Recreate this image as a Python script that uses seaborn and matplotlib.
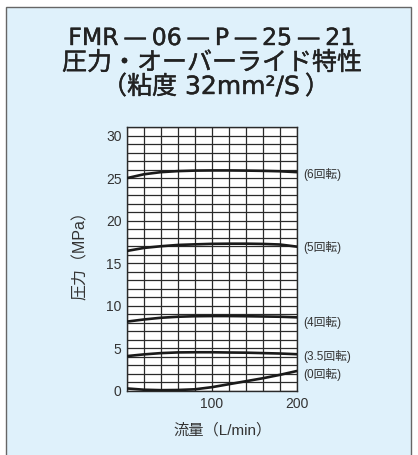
import matplotlib
matplotlib.use("Agg")
import matplotlib.pyplot as plt
import matplotlib.patches as mpatches
import matplotlib.patheffects as pe
import numpy as np
import pandas as pd
import seaborn as sns

# Flow rate (L/min) and relief pressure (MPa) per number of adjusting-screw turns
flow = [0, 20, 40, 60, 80, 100, 120, 140, 160, 180, 200]
p_6turn = [25.0, 25.45, 25.7, 25.82, 25.88, 25.9, 25.9, 25.88, 25.85, 25.8, 25.7]
p_5turn = [16.45, 16.8, 17.0, 17.15, 17.22, 17.28, 17.3, 17.3, 17.27, 17.2, 16.95]
p_4turn = [8.15, 8.4, 8.6, 8.72, 8.78, 8.8, 8.8, 8.78, 8.75, 8.72, 8.65]
p_35turn = [4.1, 4.3, 4.45, 4.53, 4.55, 4.55, 4.52, 4.5, 4.45, 4.4, 4.32]
p_0turn = [0.3, 0.15, 0.1, 0.12, 0.2, 0.45, 0.8, 1.15, 1.5, 1.9, 2.35]

series_labels = ["(6回転)", "(5回転)", "(4回転)", "(3.5回転)", "(0回転)"]
label_y = [25.4, 16.8, 8.0, 4.0, 1.9]
x_ticks = [100, 200]
y_ticks = [0, 5, 10, 15, 20, 25, 30]

title_lines = [
    "FMR\u2009—\u200906\u2009—\u2009P\u2009—\u200925\u2009—\u200921",
    "圧力・オーバーライド特性",
    "（粘度 32mm²/S\u2009）",
]

sns.set_theme(style="white")
latin_cjk = ["Liberation Sans", "Noto Sans CJK JP", "DejaVu Sans"]
wide_cjk = ["DejaVu Sans", "Noto Sans CJK JP"]
plt.rcParams["font.family"] = latin_cjk

df = pd.DataFrame({
    "flow": flow * 5,
    "pressure": p_6turn + p_5turn + p_4turn + p_35turn + p_0turn,
    "turns": sum([[lab] * len(flow) for lab in series_labels], []),
})

bg = "#dff1fb"
fig = plt.figure(figsize=(4.18, 4.55), dpi=100, facecolor="white")

# light blue panel with grey frame behind everything
panel = mpatches.Rectangle((6 / 418, -0.05), 405 / 418, 1 - 7 / 455 + 0.05,
                           transform=fig.transFigure, facecolor=bg,
                           edgecolor="#666666", linewidth=1.0, zorder=-10)
fig.patches.append(panel)

ax = fig.add_axes([127 / 418, 1 - 391 / 455, 170 / 418, 264 / 455])
ax.set_zorder(1)
ax.set_facecolor("white")

sns.lineplot(data=df, x="flow", y="pressure", hue="turns",
             palette=["#1a1a1a"] * 5, linewidth=1.9, legend=False, ax=ax,
             zorder=3)

ax.set_xlim(0, 200)
ax.set_ylim(0, 31)
ax.set_xticks(np.arange(0, 201, 20), minor=True)
ax.set_yticks(np.arange(0, 32, 1), minor=True)
ax.set_xticks(x_ticks)
ax.set_xticklabels([str(v) for v in x_ticks])
ax.set_yticks(y_ticks)
ax.set_yticklabels([str(v) for v in y_ticks])
ax.grid(True, which="both", color="#2a2a2a", linewidth=0.9)
ax.tick_params(which="both", length=0, labelsize=10, colors="#333333", pad=4)
for s in ax.spines.values():
    s.set_color("#2a2a2a")
    s.set_linewidth(1.0)

ax.set_xlabel("流量（L/min）", fontsize=11, color="#333333")
ax.set_ylabel("圧力（MPa）", fontsize=11.5, color="#333333")
ax.xaxis.set_label_coords(0.565, -0.122)
ax.yaxis.set_label_coords(-0.23, 0.527)

for lab, yv in zip(series_labels, label_y):
    ax.text(207, yv, lab, fontsize=8.5, color="#333333", va="center", ha="left",
            clip_on=False)

title_y = [38, 63, 87]
title_x = [212, 212, 216]
title_size = [17, 18, 18]
title_family = [wide_cjk, ["Noto Sans CJK JP"], wide_cjk]
for t, xx, yy, fs, fam in zip(title_lines, title_x, title_y, title_size, title_family):
    fig.text(xx / 418, 1 - yy / 455, t, ha="center", va="center",
             fontsize=fs, color="#222222", family=fam,
             path_effects=[pe.withStroke(linewidth=0.3, foreground="#222222")])

fig.savefig("out.png", dpi=100, facecolor=fig.get_facecolor())
